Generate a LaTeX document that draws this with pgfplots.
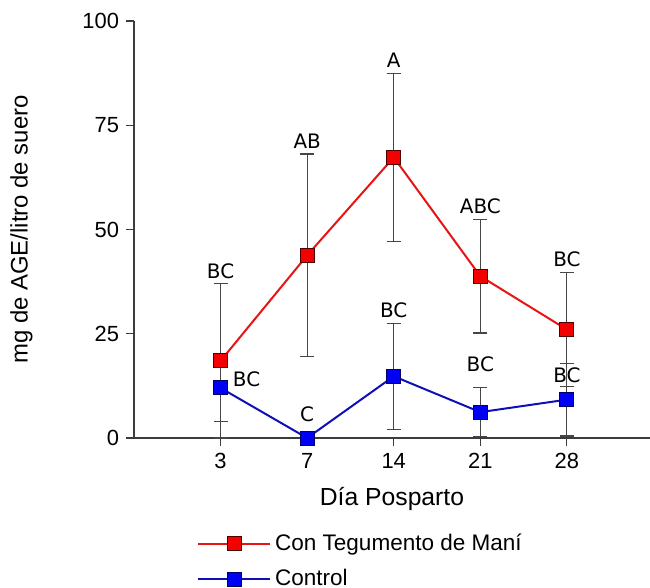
\documentclass[border=0pt]{standalone}
\usepackage{fontspec}
\setmainfont{Liberation Sans}
\newfontfamily\labfont{DejaVu Sans}
\usepackage{pgfplots}
\pgfplotsset{compat=1.18}
\definecolor{redline}{RGB}{232,20,20}
\definecolor{redfill}{RGB}{245,0,0}
\definecolor{blueline}{RGB}{15,15,185}
\definecolor{bluefill}{RGB}{0,0,245}
\definecolor{axgray}{RGB}{60,60,60}
\definecolor{errgray}{RGB}{70,70,70}
\begin{document}
\begin{tikzpicture}
\begin{axis}[
    scale only axis,
    width=258bp, height=208.5bp,
    xmin=-1, xmax=4.96,
    ymin=0, ymax=100,
    axis x line*=bottom,
    axis y line*=left,
    axis line style={axgray, line width=0.6bp},
    tick align=outside,
    major tick length=4bp,
    tick style={axgray, line width=0.6bp},
    xtick={0,1,2,3,4},
    xticklabels={3,7,14,21,28},
    ytick={0,25,50,75,100},
    ticklabel style={font=\fontsize{11}{13}\selectfont},
    /pgf/number format/assume math mode=true,
    xlabel={Día Posparto},
    ylabel={mg de AGE/litro de suero},
    xlabel style={font=\fontsize{12.4}{14}\selectfont, yshift=-2.5bp},
    ylabel style={font=\fontsize{12}{14}\selectfont, yshift=18bp},
    clip=false,
    legend cell align=left,
    legend style={draw=none, fill=none, at={(0.11,-0.21)}, anchor=north west,
      font=\fontsize{11.3}{13}\selectfont, row sep=4bp},
    legend image code/.code={\draw[mark repeat=2,mark phase=2]
      plot coordinates {(0bp,0bp)(18bp,0bp)(36bp,0bp)};},
    error bars/y dir=both,
    error bars/y explicit,
    error bars/error bar style={errgray, line width=0.6bp},
    error bars/error mark options={errgray, line width=0.6bp, mark size=3.5bp, rotate=90},
  ]
  \addplot[redline, line width=1bp, mark=square*,
    mark options={fill=redfill, draw=black!70!red, mark size=3.5bp, line width=0.5bp}]
    coordinates {
      (0,18.5) +- (0,18.5)
      (1,43.8) +- (0,24.3)
      (2,67.3) +- (0,20.2)
      (3,38.8) +- (0,13.6)
      (4,26.0) +- (0,13.7)
    };
  \addlegendentry{Con Tegumento de Maní}
  \addplot[blueline, line width=1bp, mark=square*,
    mark options={fill=bluefill, draw=black!60!blue, mark size=3.5bp, line width=0.5bp}]
    coordinates {
      (0,12.0) +- (0,8.0)
      (1,0.0) +- (0,0)
      (2,14.8) +- (0,12.7)
      (3,6.2) +- (0,5.9)
      (4,9.2) +- (0,8.7)
    };
  \addlegendentry{Control}
  % letter labels
  \begin{scope}[every node/.style={font=\labfont\fontsize{10}{11}\selectfont, inner sep=0pt, anchor=south}]
    \node[yshift=2.5bp] at (axis cs:0,37) {BC};
    \node[yshift=2.5bp] at (axis cs:1,68.1) {AB};
    \node[yshift=2.5bp] at (axis cs:2,87.5) {A};
    \node[yshift=2.5bp] at (axis cs:3,52.4) {ABC};
    \node[yshift=2.5bp] at (axis cs:4,39.7) {BC};
    \node[anchor=center, xshift=13bp] at (axis cs:0,14.1) {BC};
    \node[yshift=8bp] at (axis cs:1,0) {C};
    \node[yshift=2.5bp] at (axis cs:2,27.5) {BC};
    \node[yshift=7.5bp] at (axis cs:3,12.1) {BC};
    \node at (axis cs:4,13.2) {BC};
  \end{scope}
  \coordinate (bl) at (rel axis cs:0,0);
  \coordinate (tr) at (rel axis cs:1,1);
\end{axis}
\pgfresetboundingbox
\path[use as bounding box] ([shift={(-67bp,-75bp)}]bl) rectangle ([shift={(0bp,10.5bp)}]tr);
\end{tikzpicture}
\end{document}
